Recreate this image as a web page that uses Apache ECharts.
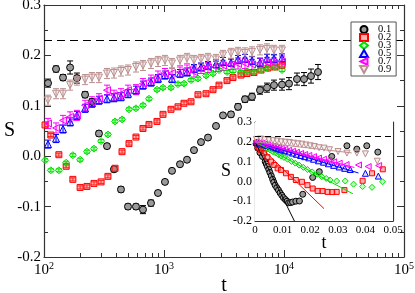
<!DOCTYPE html>
<html><head><meta charset="utf-8">
<script src="https://cdn.jsdelivr.net/npm/echarts@6/dist/echarts.min.js"></script>
<style>html,body{margin:0;padding:0;background:#fff}#c{width:415px;height:293px}</style>
</head><body><div id="c"></div>
<script>
// ---------- data ----------
const names = ['0.1', '0.2', '0.3', '0.5', '0.7', '0.9'];
// main plot time grids
const tMain = [108,126,144,165,188,220,251,287,335,383,438,501,584,668,779,891,1019,1166,1359,1555,1778,2034,2326,2713,3103,3617,4137,4732,5412,6310,7217,8254,9624,11010,12830,14680,16790,19200];
const tMainRG = [102,114,133,153,174,200,228,261,299,341,391,447,511,584,668,750,874,981,1144,1308,1468,1679,1920,2239,2561,2873,3350,3758,4382,4917,5623,6432,7356,8414,9624];
// main plot S values
const S01 = [0.145,0.173,0.156,0.176,0.155,0.122,0.108,0.045,0.020,-0.026,-0.066,-0.100,-0.100,-0.106,-0.093,-0.073,-0.051,-0.029,-0.016,-0.007,0.012,0.028,0.037,0.060,0.081,0.083,0.098,0.113,0.118,0.131,0.136,0.141,0.142,0.144,0.153,0.153,0.159,0.167];
const S02 = [0.062,0.042,0.003,-0.020,-0.046,-0.062,-0.060,-0.054,-0.051,-0.040,-0.024,0.009,0.025,0.038,0.055,0.063,0.069,0.083,0.093,0.098,0.105,0.108,0.122,0.124,0.132,0.141,0.150,0.156,0.161,0.164,0.166,0.171,0.175,0.177,0.180];
const S03 = [-0.008,-0.028,-0.028,-0.013,0.002,-0.007,0.009,0.015,0.030,0.043,0.069,0.073,0.093,0.095,0.101,0.114,0.132,0.136,0.136,0.143,0.144,0.151,0.154,0.160,0.164,0.171,0.167,0.169,0.167,0.169,0.167,0.171,0.174,0.177,0.171];
const S05 = [0.024,0.035,0.054,0.068,0.081,0.095,0.105,0.111,0.114,0.116,0.118,0.124,0.131,0.141,0.147,0.154,0.161,0.154,0.164,0.167,0.174,0.177,0.180,0.183,0.188,0.186,0.192,0.194,0.190,0.186,0.194,0.194,0.195];
const S07 = [0.065,0.056,0.071,0.078,0.081,0.101,0.108,0.114,0.131,0.121,0.124,0.131,0.132,0.144,0.151,0.159,0.164,0.165,0.167,0.171,0.167,0.174,0.176,0.178,0.180,0.182,0.183,0.184,0.182,0.185,0.186,0.185,0.187];
const S09 = [0.111,0.124,0.124,0.141,0.151,0.152,0.156,0.156,0.164,0.165,0.169,0.171,0.177,0.180,0.184,0.188,0.190,0.184,0.190,0.194,0.190,0.192,0.194,0.192,0.200,0.204,0.206,0.205,0.207,0.211,0.213,0.210,0.210];
// error bar half-heights
const E01 = [0.008,0.006,0.006,0.013,0.010,0.006,0.006,0.005,0.005,0.005,0.005,0.005,0.005,0.008,0.006,0.005,0.004,0.004,0.004,0.004,0.004,0.004,0.004,0.004,0.004,0.005,0.006,0.006,0.007,0.008,0.009,0.010,0.011,0.012,0.012,0.013,0.014,0.015];
const E02 = 0.003, E03 = 0.003, E05 = 0.008, E07 = 0.010, E09 = 0.010;
const dashLevel = 0.225;
// inset data [t, S]
const In01 = [[0.0004,0.19],[0.0010,0.168],[0.0018,0.145],[0.0027,0.126],[0.0037,0.100],[0.0041,0.088],[0.0045,0.075],[0.0050,0.060],[0.0054,0.045],[0.0059,0.028],[0.0064,0.010],[0.0068,-0.004],[0.0073,-0.019],[0.0079,-0.032],[0.0085,-0.044],[0.0091,-0.058],[0.0097,-0.070],[0.0103,-0.082],[0.0110,-0.092],[0.0116,-0.100],[0.0122,-0.108],[0.0129,-0.107],[0.0136,-0.104],[0.0148,-0.100],[0.0161,-0.099],[0.0173,-0.065],[0.0209,0.020],[0.0233,0.049],[0.0278,0.126],[0.0333,0.180],[0.0369,0.163],[0.0405,0.180],[0.0445,0.148]];
const In02 = [[0.0004,0.195],[0.0009,0.185],[0.0015,0.170],[0.0022,0.158],[0.0033,0.143],[0.0045,0.122],[0.0058,0.100],[0.0070,0.083],[0.0082,0.066],[0.0094,0.058],[0.0112,0.041],[0.0130,0.023],[0.0148,0.007],[0.0170,-0.002],[0.0190,-0.019],[0.0209,-0.036],[0.0227,-0.048],[0.0245,-0.049],[0.0263,-0.053],[0.0280,-0.054],[0.0296,-0.053],[0.0324,-0.044],[0.0390,0.003],[0.0424,0.041],[0.0463,0.061]];
const In03 = [[0.0005,0.197],[0.0015,0.188],[0.0025,0.180],[0.0035,0.172],[0.0045,0.164],[0.0055,0.158],[0.0065,0.150],[0.0075,0.143],[0.0085,0.135],[0.0095,0.128],[0.0105,0.121],[0.0118,0.112],[0.0132,0.101],[0.0146,0.092],[0.0160,0.082],[0.0175,0.071],[0.0190,0.060],[0.0207,0.048],[0.0225,0.036],[0.0242,0.024],[0.0258,0.015],[0.0272,0.007],[0.0296,0.002],[0.0327,0.002],[0.0357,-0.014],[0.0390,-0.026],[0.0424,-0.030],[0.0462,-0.002]];
const In05 = [[0.0005,0.198],[0.0015,0.193],[0.0025,0.189],[0.0035,0.185],[0.0045,0.181],[0.0055,0.177],[0.0065,0.172],[0.0075,0.168],[0.0085,0.164],[0.0095,0.160],[0.0108,0.155],[0.0122,0.149],[0.0136,0.143],[0.0150,0.137],[0.0165,0.131],[0.0180,0.125],[0.0195,0.119],[0.0212,0.112],[0.0230,0.104],[0.0248,0.097],[0.0266,0.089],[0.0285,0.081],[0.0305,0.073],[0.0325,0.066],[0.0345,0.060],[0.0400,0.041],[0.0447,0.027]];
const In07 = [[0.0005,0.200],[0.0015,0.196],[0.0025,0.192],[0.0035,0.189],[0.0045,0.185],[0.0055,0.181],[0.0065,0.178],[0.0075,0.174],[0.0085,0.171],[0.0095,0.167],[0.0108,0.162],[0.0122,0.157],[0.0136,0.152],[0.0150,0.147],[0.0165,0.141],[0.0180,0.136],[0.0195,0.131],[0.0212,0.125],[0.0230,0.118],[0.0248,0.112],[0.0266,0.106],[0.0285,0.099],[0.0305,0.092],[0.0330,0.085],[0.0375,0.083],[0.0410,0.075],[0.0448,0.080]];
const In09 = [[0.0005,0.212],[0.0020,0.214],[0.0035,0.211],[0.0050,0.208],[0.0065,0.207],[0.0080,0.204],[0.0095,0.200],[0.0110,0.198],[0.0125,0.196],[0.0140,0.193],[0.0155,0.190],[0.0170,0.188],[0.0185,0.184],[0.0200,0.180],[0.0215,0.176],[0.0232,0.170],[0.0250,0.168],[0.0270,0.160],[0.0301,0.151],[0.0333,0.143],[0.0369,0.143],[0.0400,0.139],[0.0443,0.102]];
// inset linear fits S = fitStart + slope * t
const fitStart = 0.2;
const fitSlopes = [-28, -13.5, -7.4, -4.2, -3.6, -1.6];
const fitEnds = [0.0143, 0.025, 0.0355, 0.0375, 0.036, 0.035];
// tick values
const xMajor = [100, 1000, 10000, 100000];
const xMinor = [200,300,400,500,600,700,800,900,2000,3000,4000,5000,6000,7000,8000,9000,20000,30000,40000,50000,60000,70000,80000,90000];

// ---------- styles ----------
const FF = 'Liberation Serif';
const strokes = ['#000000', '#ff0000', '#00dd00', '#0000ff', '#ff00ff', '#bc8f8f'];
const fills = ['#9a9a9a', 'rgba(255,80,80,0.45)', 'rgba(0,255,0,0.25)', 'rgba(0,0,255,0.12)', 'rgba(255,0,255,0.18)', 'rgba(188,143,143,0.15)'];
const symbols = ['circle', 'rect', 'diamond', 'triangle', 'path://M0,5L10,0L10,10Z', 'path://M0,0L10,0L5,9Z'];
const mainSize = [7, 6, 7, 7, 7, 7];
const AX = '#333';

function pairs(ts, ss) { return ss.map((s, i) => [ts[i], s]); }
function triples(ts, ss, es) { return ss.map((s, i) => [ts[i], s, Array.isArray(es) ? es[i] : es]); }

const mainT = [tMain, tMainRG, tMainRG, tMain, tMain, tMain];
const mainS = [S01, S02, S03, S05, S07, S09];
const mainE = [E01, E02, E03, E05, E07, E09];
const insetD = [In01, In02, In03, In05, In07, In09];

function errRender(params, api) {
  const x = api.value(0), y = api.value(1), e = api.value(2);
  const a = api.coord([x, y + e]), b = api.coord([x, y - e]);
  const w = 3;
  const st = { stroke: api.visual('color'), lineWidth: 1 };
  return { type: 'group', children: [
    { type: 'line', shape: { x1: a[0], y1: a[1], x2: b[0], y2: b[1] }, style: st },
    { type: 'line', shape: { x1: a[0] - w, y1: a[1], x2: a[0] + w, y2: a[1] }, style: st },
    { type: 'line', shape: { x1: b[0] - w, y1: b[1], x2: b[0] + w, y2: b[1] }, style: st }
  ]};
}

const series = [];
names.forEach((n, i) => {
  series.push({
    type: 'custom', name: 'err' + n, xAxisIndex: 0, yAxisIndex: 0, clip: true,
    itemStyle: { color: strokes[i] }, renderItem: errRender,
    encode: { x: 0, y: 1 }, data: triples(mainT[i], mainS[i], mainE[i]), z: 2
  });
});
names.forEach((n, i) => {
  const s = {
    type: 'scatter', name: n, xAxisIndex: 0, yAxisIndex: 0,
    symbol: symbols[i], symbolSize: mainSize[i],
    itemStyle: { color: fills[i], borderColor: strokes[i], borderWidth: 1, opacity: 1 },
    data: pairs(mainT[i], mainS[i]), z: 3
  };
  if (i === 0) {
    s.markLine = { silent: true, symbol: 'none', label: { show: false },
      lineStyle: { type: [8, 5], color: '#000', width: 1.2 }, data: [{ yAxis: dashLevel }] };
  }
  series.push(s);
});
names.forEach((n, i) => {
  series.push({
    type: 'line', name: 'fit' + n, xAxisIndex: 4, yAxisIndex: 2, symbol: 'none', silent: true,
    lineStyle: { color: strokes[i], width: 1 }, z: 4,
    data: [[0, fitStart], [fitEnds[i], fitStart + fitSlopes[i] * fitEnds[i]]]
  });
});
names.forEach((n, i) => {
  const s = {
    type: 'scatter', name: n, xAxisIndex: 4, yAxisIndex: 2,
    symbol: symbols[i], symbolSize: mainSize[i] - 1,
    itemStyle: { color: fills[i], borderColor: strokes[i], borderWidth: 1, opacity: 1 },
    data: insetD[i], z: 3
  };
  if (i === 0) {
    s.markLine = { silent: true, symbol: 'none', label: { show: false },
      lineStyle: { type: [6, 4], color: '#000', width: 1.2 }, data: [{ yAxis: dashLevel }] };
  }
  series.push(s);
});

const axLine = { show: true, onZero: false, lineStyle: { color: AX, width: 1.2 } };
const noLine = { show: false, onZero: false };
const logBase = { type: 'log', logBase: 10, min: 100, max: 100000, gridIndex: 0, splitLine: { show: false } };
const yMainBase = { type: 'value', min: -0.2, max: 0.3, interval: 0.1, gridIndex: 0, splitLine: { show: false },
  axisLine: axLine,
  axisTick: { inside: true, length: 7, lineStyle: { color: AX } },
  minorTick: { show: true, splitNumber: 2, length: 4, lineStyle: { color: AX } } };
const xInBase = { type: 'value', min: 0, max: 0.05, interval: 0.01, gridIndex: 1, splitLine: { show: false },
  axisLine: axLine,
  axisTick: { inside: true, length: 5, lineStyle: { color: AX } },
  minorTick: { show: true, splitNumber: 2, length: 3, lineStyle: { color: AX } } };
const yInBase = { type: 'value', min: -0.2, max: 0.3, interval: 0.1, gridIndex: 1, splitLine: { show: false },
  axisLine: axLine,
  axisTick: { inside: true, length: 5, lineStyle: { color: AX } },
  minorTick: { show: true, splitNumber: 2, length: 3, lineStyle: { color: AX } } };
const fmt1 = v => (Math.abs(v) < 1e-9 ? '0.0' : v.toFixed(1));

const option = {
  animation: false,
  backgroundColor: '#fff',
  textStyle: { fontFamily: FF },
  grid: [
    { left: 44, top: 5, width: 360, height: 252, outerBoundsMode: 'none', containLabel: false },
    { left: 255, top: 122, width: 138, height: 99, show: true, backgroundColor: '#fff', borderWidth: 0, z: 1, outerBoundsMode: 'none', containLabel: false }
  ],
  legend: {
    data: names, orient: 'vertical', left: 351, top: 22, padding: [2, 5, 1, 8], itemGap: -3,
    itemWidth: 8, itemHeight: 7, backgroundColor: '#fff', borderColor: '#555', borderWidth: 1, borderRadius: 0,
    textStyle: { fontFamily: FF, fontSize: 10.5, color: '#000', padding: [0, 0, 0, 5] }, z: 10
  },
  xAxis: [
    Object.assign({}, logBase, { position: 'bottom',
      axisLine: axLine,
      axisTick: { inside: true, length: 7, lineStyle: { color: AX }, customValues: xMajor },
      axisLabel: { margin: 4, customValues: xMajor, color: '#000',
        formatter: v => '{b|10}{s|' + Math.round(Math.log10(v)) + '}',
        rich: { b: { fontSize: 15, fontFamily: FF, color: '#000' }, s: { fontSize: 10, fontFamily: FF, color: '#000', padding: [0, 0, 9, 0] } } },
      name: 't', nameLocation: 'middle', nameGap: 19, nameMoveOverlap: false, nameTextStyle: { fontSize: 20, fontFamily: FF, color: '#000' } }),
    Object.assign({}, logBase, { position: 'bottom', axisLine: noLine, axisLabel: { show: false },
      axisTick: { inside: true, length: 4, lineStyle: { color: AX }, customValues: xMinor } }),
    Object.assign({}, logBase, { position: 'top', axisLine: axLine, axisLabel: { show: false },
      axisTick: { inside: true, length: 7, lineStyle: { color: AX }, customValues: xMajor } }),
    Object.assign({}, logBase, { position: 'top', axisLine: noLine, axisLabel: { show: false },
      axisTick: { inside: true, length: 4, lineStyle: { color: AX }, customValues: xMinor } }),
    Object.assign({}, xInBase, { position: 'bottom',
      axisLabel: { margin: 4, fontSize: 11, fontFamily: FF, color: '#000', showMinLabel: true, showMaxLabel: true, formatter: v => (v === 0 ? '0' : v.toFixed(2)) },
      name: 't', nameLocation: 'middle', nameGap: 13, nameMoveOverlap: false, nameTextStyle: { fontSize: 18, fontFamily: FF, color: '#000' } }),
    Object.assign({}, xInBase, { position: 'top', axisLabel: { show: false } })
  ],
  yAxis: [
    Object.assign({}, yMainBase, { position: 'left',
      axisLabel: { margin: 3, fontSize: 15, fontFamily: FF, color: '#000', showMinLabel: true, showMaxLabel: true, formatter: fmt1 },
      name: 'S', nameLocation: 'middle', nameGap: 29, nameRotate: 0, nameMoveOverlap: false, nameTextStyle: { fontSize: 20, fontFamily: FF, color: '#000' } }),
    Object.assign({}, yMainBase, { position: 'right', axisLabel: { show: false } }),
    Object.assign({}, yInBase, { position: 'left',
      axisLabel: { margin: 3, fontSize: 12, fontFamily: FF, color: '#000', showMinLabel: true, showMaxLabel: true, formatter: fmt1 },
      name: 'S', nameLocation: 'middle', nameGap: 24, nameRotate: 0, nameMoveOverlap: false, nameTextStyle: { fontSize: 18, fontFamily: FF, color: '#000' } }),
    Object.assign({}, yInBase, { position: 'right', axisLabel: { show: false } })
  ],
  series: series
};
const chart = echarts.init(document.getElementById('c'), null, { renderer: 'canvas' });
chart.setOption(option);
</script></body></html>
